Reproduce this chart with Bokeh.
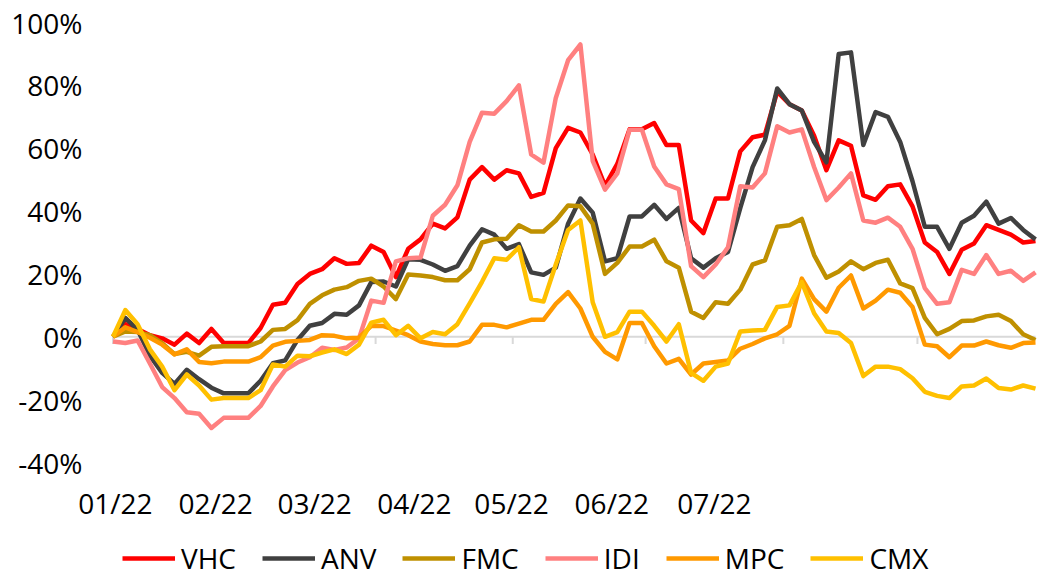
from bokeh.plotting import figure
from bokeh.models import Range1d, FixedTicker, Legend, LegendItem
from bokeh.core.properties import value
from bokeh.embed import file_html
from bokeh.resources import INLINE

# trading-day index (every second session)
day_index = list(range(0, 151, 2))

VHC = [0, 4.0, 2.5, 0.5, -0.5, -2.5, 1.0, -2.0, 2.5, -2.0, -2.0, -2.0,
       2.8, 10.2, 10.8, 16.8, 20.0, 21.5, 25.0, 23.2, 23.5, 29.0, 27.0, 19.0,
       28.0, 31.0, 36.0, 34.5, 38.0, 50.0, 54.0, 50.0, 53.0, 52.0, 44.5, 45.8,
       60.0, 66.5, 65.0, 58.0, 48.0, 55.0, 66.0, 66.0, 68.0, 61.0, 61.0, 37.0,
       33.0, 44.0, 44.0, 59.0, 63.5, 64.3, 78.0, 74.0, 72.0, 64.0, 53.0, 62.5,
       60.8, 45.0, 43.6, 47.9, 48.5, 41.5, 30.0, 27.0, 20.0, 27.7, 29.7, 35.5,
       34.0, 32.5, 30.0, 30.5]
ANV = [0, 6, 2.2, -6, -11.5, -15, -10.5, -13.5, -16.2, -18, -18, -18,
       -14, -8.4, -7.5, -1, 3.5, 4.4, 7.3, 7, 10, 17.4, 17.6, 16,
       24.7, 24.5, 23, 21, 22.5, 29, 34.2, 32.5, 28, 29.5, 20.5, 19.7,
       22, 36, 44, 39.5, 24, 25, 38.3, 38.3, 42, 37.5, 41, 25,
       22, 25, 27, 41, 54, 62.5, 79, 74, 72, 62, 55.5, 90,
       90.5, 61, 71.5, 70, 62, 49.5, 35, 35, 28, 36.3, 38.5, 43,
       36, 37.8, 34, 31]
FMC = [0, 1.7, 1.5, 0.5, -2, -5.5, -4.8, -6, -3.2, -3, -3, -3,
       -1.5, 2.2, 2.5, 5.3, 10.5, 13.2, 15, 15.8, 17.8, 18.5, 16, 12,
       19.8, 19.5, 19, 18, 18, 21.5, 30, 31, 31.2, 35.5, 33.5, 33.5,
       37, 41.8, 41.5, 36, 20, 23.5, 28.7, 28.7, 30.9, 24, 22, 8,
       6, 11, 10.5, 15, 23, 24.3, 35, 35.5, 37.5, 26, 18.8, 20.8,
       24, 21.5, 23.5, 24.5, 17, 15.5, 6, 0.8, 2.5, 5, 5.2, 6.5,
       7, 5, 0.8, -1]
IDI = [-1.5, -2, -1.2, -8.5, -16, -19.5, -24, -24.5, -29, -25.8, -25.8, -25.8,
       -22, -15.8, -10.6, -8.2, -6.5, -3.5, -4.2, -3.4, -0.5, 11.5, 10.8, 24,
       25, 25.2, 38.5, 42, 48.2, 62, 71.3, 71, 75, 80, 58, 55.4,
       76, 88, 93, 56, 46.8, 52, 65.9, 65.9, 54.2, 48.5, 47, 22.5,
       19, 23, 28.5, 47.9, 47.5, 52, 67, 65, 66, 54, 43.5, 47.5,
       52, 37, 36.3, 37.9, 35, 28, 15.5, 10.5, 11, 21.3, 20, 26,
       20, 21, 17.8, 20.5]
MPC = [0, 3, 1.5, -0.3, -2.5, -5.6, -4, -8, -8.4, -7.9, -7.9, -7.9,
       -6.5, -2.8, -1.6, -1.3, -1, 0.5, 0.3, -0.5, -0.3, 3.5, 3.4, 2,
       0.5, -1.5, -2.3, -2.7, -2.7, -1.5, 3.8, 3.8, 3, 4.2, 5.4, 5.4,
       10.5, 14.2, 9, 0, -4.8, -7.2, 4.4, 4.4, -3, -8.5, -7, -12,
       -8.5, -8, -7.5, -3.8, -2.3, -0.5, 0.8, 3.5, 18.5, 12, 8, 15.6,
       19.5, 9, 11.5, 15, 14, 9.5, -2.5, -3, -6.5, -2.8, -2.8, -1.5,
       -2.7, -3.5, -2, -1.8]
CMX = [0, 8.5, 4, -4, -9.5, -17, -12, -15.5, -20, -19.5, -19.5, -19.5,
       -17, -8.8, -9.5, -6, -6.2, -5, -4, -5.5, -2.5, 4.5, 5.4, 0.5,
       3.5, -0.5, 1.5, 0.8, 4, 10.6, 17.5, 25, 24.5, 28.5, 12, 11.2,
       23, 34, 37, 11, 0, 1.5, 8, 8, 3.5, -1.5, 4, -11.5,
       -14, -9.5, -8.5, 1.7, 2, 2.2, 9.5, 10, 17.4, 7.5, 1.7, 1.2,
       -2, -12.5, -9.5, -9.5, -10.3, -13.2, -17.5, -18.8, -19.5, -15.8, -15.5, -13.3,
       -16.3, -16.8, -15.5, -16.5]

series_names = ["VHC", "ANV", "FMC", "IDI", "MPC", "CMX"]
series_values = [VHC, ANV, FMC, IDI, MPC, CMX]
series_colors = ["#FF0000", "#404040", "#BF9000", "#FF8080", "#FF9900", "#FFC000"]

x_labels = ["01/22", "02/22", "03/22", "04/22", "05/22", "06/22", "07/22"]
x_label_pos = [0.4, 16.7, 32.8, 49.0, 64.8, 81.1, 97.8]
month_tick_pos = [0, 22.7, 42.7, 65.0, 86.6, 109.0, 130.8]
y_ticks = [-40, -20, 0, 20, 40, 60, 80, 100]

# ---- layout constants (pixels) ----
FONT = "Open Sans"
W, H = 1038, 577
TOP, LEFT = 22, 70
PX_PER_PCT = 440 / 140.0                     # -40%..100% spans 440 px
PX_PER_DAY = 6.15
X0_PX = 112.5                                # first session
Y_MIN = 100 - (H - TOP) / PX_PER_PCT         # frame reaches the bottom edge
X_LABEL_Y = 100 - (502 - TOP) / PX_PER_PCT   # row of month labels
x_start = -(X0_PX - LEFT) / PX_PER_DAY
x_end = (W - X0_PX) / PX_PER_DAY

p = figure(width=W, height=H, output_backend="svg", toolbar_location=None,
           x_axis_location=None,
           x_range=Range1d(x_start, x_end), y_range=Range1d(Y_MIN, 100),
           min_border_left=LEFT, min_border_right=0, min_border_top=TOP,
           min_border_bottom=0)
p.outline_line_color = None
p.grid.visible = False
p.background_fill_color = "white"
p.border_fill_color = "white"

# zero line of the category axis, with month tick marks
p.segment(x0=[day_index[0]], y0=[0], x1=[day_index[-1]], y1=[0],
          line_color="#D9D9D9", line_width=2)
p.segment(x0=month_tick_pos, y0=[0] * len(month_tick_pos),
          x1=month_tick_pos, y1=[-2.3] * len(month_tick_pos),
          line_color="#D9D9D9", line_width=2)

renderers = []
for name, vals, col in zip(series_names, series_values, series_colors):
    r = p.line(day_index, vals, line_color=col, line_width=4.5, line_join="round")
    renderers.append((name, r))

# month labels of the category axis
p.text(x=x_label_pos, y=[X_LABEL_Y] * len(x_labels), text=x_labels,
       text_font=value(FONT), text_font_size=value("28px"), text_color="black",
       text_align="center", text_baseline="middle")

# y axis
ya = p.yaxis[0]
ya.ticker = FixedTicker(ticks=y_ticks)
ya.major_label_overrides = {v: f"{v}%" for v in y_ticks}
ya.axis_line_color = None
ya.major_tick_line_color = None
ya.minor_tick_line_color = None
ya.major_tick_in = 0
ya.major_tick_out = 0
ya.major_label_standoff = -12
ya.major_label_text_font = FONT
ya.major_label_text_font_size = "28px"
ya.major_label_text_color = "black"

legend = Legend(items=[LegendItem(label=n, renderers=[r]) for n, r in renderers],
                orientation="horizontal", location=(122 - LEFT, 0),
                label_text_font=FONT, label_text_font_size="28px",
                label_text_color="black",
                glyph_width=53, glyph_height=20, label_standoff=6,
                spacing=26, padding=0, margin=0,
                border_line_color=None, background_fill_alpha=0)
p.add_layout(legend, "center")

open("out.html", "w").write(file_html(p, INLINE))
